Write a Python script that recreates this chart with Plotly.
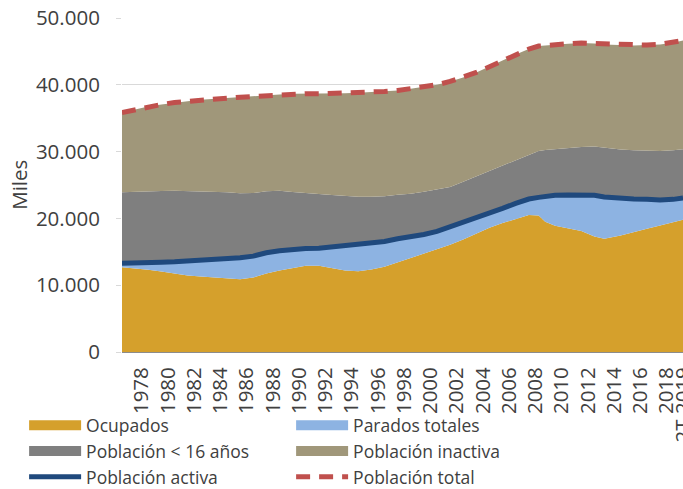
import plotly.graph_objects as go

# Periodos (trimestre + año)
periodos = ["3T 1976", "3T 1977", "3T 1978", "3T 1979", "3T 1980", "3T 1981", "3T 1982",
            "3T 1983", "3T 1984", "3T 1985", "3T 1986", "3T 1987", "3T 1988", "3T 1989",
            "3T 1990", "3T 1991", "3T 1992", "3T 1993", "3T 1994", "3T 1995", "3T 1996",
            "3T 1997", "3T 1998", "3T 1999", "3T 2000", "3T 2001", "3T 2002", "3T 2003",
            "3T 2004", "3T 2005", "3T 2006", "3T 2007", "2T 2008", "4T 2008", "3T 2009",
            "3T 2010", "3T 2011", "3T 2012", "2T 2013", "3T 2014", "3T 2015", "3T 2016",
            "3T 2017", "3T 2018", "2T 2019"]

# Miles de personas
ocupados = [12700, 12550, 12300, 12050, 11750, 11450, 11300, 11150, 10950, 10900, 11150,
            11750, 12200, 12550, 12900, 12900, 12600, 12200, 12100, 12350, 12750, 13400,
            14000, 14700, 15400, 16050, 16850, 17700, 18600, 19300, 19900, 20500, 20450,
            19500, 18900, 18550, 18100, 17300, 16950, 17450, 17900, 18450, 18950, 19400,
            19800]
parados = [600, 750, 1050, 1400, 1750, 2150, 2450, 2750, 3050, 3200, 3200, 3100, 2950, 2800,
           2600, 2650, 3150, 3800, 4050, 4000, 3800, 3550, 3250, 2900, 2650, 2650, 2550,
           2500, 2250, 2200, 2350, 2400, 2700, 3800, 4550, 4950, 5400, 6150, 6250, 5500,
           5000, 4400, 3800, 3450, 3250]
menores_16 = [10600, 10700, 10700, 10650, 10650, 10500, 10300, 10100, 9900, 9650, 9450,
              9200, 9000, 8600, 8250, 8100, 7750, 7350, 7100, 6900, 6750, 6600, 6450, 6400,
              6350, 6000, 6100, 6100, 6350, 6500, 6500, 6650, 6950, 6950, 6950, 7050, 7200,
              7300, 7350, 7350, 7300, 7300, 7350, 7350, 7300]
inactiva = [11950, 12300, 12700, 12950, 13200, 13450, 13700, 13900, 14100, 14400, 14450,
            14350, 14400, 14700, 14900, 15000, 15200, 15400, 15550, 15650, 15700, 15600,
            15700, 15650, 15600, 15800, 15600, 15550, 15500, 15650, 15800, 15800, 15700,
            15650, 15600, 15600, 15550, 15450, 15500, 15650, 15700, 15800, 15950, 16100,
            16300]
poblacion_activa = [13300, 13300, 13350, 13450, 13500, 13600, 13750, 13900, 14000, 14100,
                    14350, 14850, 15150, 15350, 15500, 15550, 15750, 16000, 16150, 16350,
                    16550, 16950, 17250, 17600, 18050, 18700, 19400, 20200, 20850, 21500,
                    22250, 22900, 23150, 23300, 23450, 23500, 23500, 23450, 23200, 22950,
                    22900, 22850, 22750, 22850, 23050]
poblacion_total = [35850, 36300, 36750, 37050, 37350, 37550, 37750, 37900, 38000, 38150,
                   38250, 38400, 38550, 38650, 38650, 38650, 38700, 38750, 38800, 38900,
                   39000, 39150, 39400, 39650, 40000, 40500, 41100, 41850, 42700, 43650,
                   44550, 45350, 45800, 45900, 46000, 46150, 46250, 46200, 46050, 45950,
                   45900, 45950, 46050, 46300, 46650]

etiquetas_x = ["1T 1978", "1T 1980", "1T 1982", "1T 1984", "1T 1986", "1T 1988", "1T 1990",
               "1T 1992", "1T 1994", "1T 1996", "1T 1998", "1T 2000", "1T 2002", "1T 2004",
               "1T 2006", "1T 2008", "1T 2010", "1T 2012", "1T 2014", "1T 2016", "1T 2018",
               "2T 2019"]
textos_x = ["1978", "1980", "1982", "1984", "1986", "1988", "1990", "1992", "1994", "1996",
            "1998", "2000", "2002", "2004", "2006", "2008", "2010", "2012", "2014", "2016",
            "2018", "2T 2019"]


def a_numero(p):
    q, y = p.split()
    return int(y) + (int(q[0]) - 1) / 4


x = [a_numero(p) for p in periodos]
tickvals = [a_numero(p) for p in etiquetas_x]

FONT = "Open Sans"
TXT = "#404040"

fig = go.Figure()
areas = [
    ("Ocupados", ocupados, "#D5A02C"),
    ("Parados totales", parados, "#8DB3E2"),
    ("Población < 16 años", menores_16, "#7F7F7F"),
    ("Población inactiva", inactiva, "#A0977A"),
]
for nombre, vals, col in areas:
    fig.add_trace(go.Scatter(x=x, y=vals, name=nombre, mode="lines", stackgroup="uno",
                             line=dict(width=0, color=col), fillcolor=col,
                             legendgroup=nombre, showlegend=False))
# Entradas de leyenda (rectángulo ancho como en el original), sin datos
for nombre, vals, col in areas:
    fig.add_trace(go.Scatter(x=[None], y=[None], name=nombre, mode="lines",
                             legendgroup=nombre, line=dict(width=12, color=col),
                             hoverinfo="skip"))

fig.add_trace(go.Scatter(x=x, y=poblacion_activa, name="Población activa", mode="lines",
                         line=dict(color="#1F497D", width=5)))
fig.add_trace(go.Scatter(x=x, y=poblacion_total, name="Población total", mode="lines",
                         line=dict(color="#C0504D", width=5, dash="14px,9px")))

fig.update_layout(
    width=683, height=489,
    margin=dict(l=122, r=0, t=18, b=137, autoexpand=False),
    paper_bgcolor="white", plot_bgcolor="white",
    separators=",.",
    font=dict(family=FONT, color=TXT, size=20),
    showlegend=True,
    legend=dict(orientation="h", x=-0.1745, xanchor="left", y=-0.166, yanchor="top",
                font=dict(family=FONT, size=17.5, color=TXT), traceorder="normal",
                itemwidth=52, entrywidth=200, entrywidthmode="pixels",
                bgcolor="rgba(0,0,0,0)", itemclick=False),
    xaxis=dict(range=[1976.5, 2019.25], tickvals=tickvals, ticktext=textos_x,
               tickangle=-90, showgrid=False, zeroline=False, showline=True,
               linecolor="#8C8C8C", linewidth=1, ticks="", automargin=False,
               ticklabelstandoff=6, ticklabeloverflow="allow",
               tickfont=dict(family=FONT, size=20.5, color=TXT)),
    yaxis=dict(range=[0, 50000], dtick=10000, tickformat=",d", showgrid=True,
               gridcolor="#D9D9D9", gridwidth=1, zeroline=False, showline=False,
               ticks="outside", ticklen=5, tickcolor="#D9D9D9", ticklabelstandoff=12,
               automargin=False, tickfont=dict(family=FONT, size=20.5, color=TXT)),
    annotations=[dict(text="Miles", textangle=-90, xref="paper", yref="paper",
                      x=-0.184, y=0.5, xanchor="center", yanchor="middle", showarrow=False,
                      font=dict(family=FONT, size=20.5, color=TXT))],
)

fig.write_html("out.html", config={"displayModeBar": False},
               post_script="document.body.style.margin='0px';"
                           "document.body.style.overflow='hidden';")
